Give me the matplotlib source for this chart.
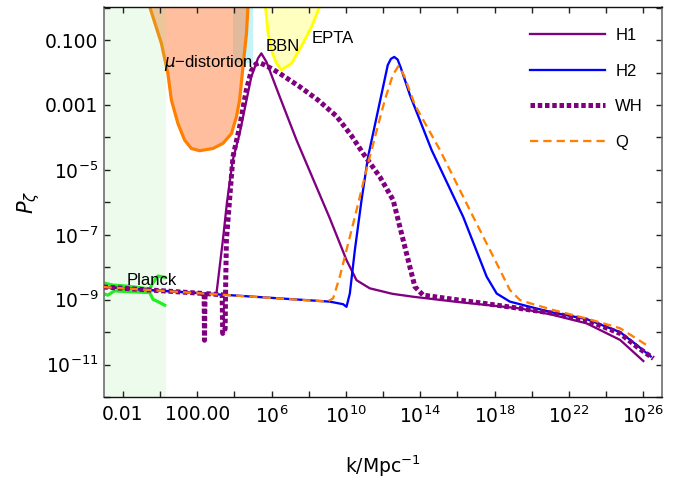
import matplotlib
matplotlib.use("Agg")
import numpy as np
import matplotlib.pyplot as plt
from matplotlib.ticker import FixedLocator, FixedFormatter, NullLocator

plt.rcParams['font.family'] = ['Liberation Sans', 'DejaVu Sans']
plt.rcParams['mathtext.fontset'] = 'custom'
plt.rcParams['mathtext.rm'] = 'DejaVu Sans'
plt.rcParams['mathtext.it'] = 'DejaVu Sans:italic'
plt.rcParams['mathtext.bf'] = 'DejaVu Sans:bold'

# ---- curves: log10(k / Mpc^-1) and log10(P_zeta) ----
h1_logk = [-3.05, 3.03, 3.38, 3.60, 3.91, 4.28, 4.91, 5.27, 5.45, 5.72, 6.44, 7.34,
           9.13, 10.03, 10.57, 11.28, 12.50, 13.62, 16.00, 19.36, 21.00, 22.95, 24.75, 26.00]
h1_logp = [-8.61, -8.83, -7.16, -6.00, -4.70, -3.88, -2.13, -1.56, -1.41, -1.67, -2.75, -4.08,
           -6.49, -7.78, -8.40, -8.65, -8.82, -8.91, -9.07, -9.27, -9.45, -9.73, -10.24, -10.89]

h2_logk = [-3.05, 9.13, 9.85, 10.03, 10.21, 10.48, 10.84, 11.19, 11.73, 12.25, 12.42, 12.60,
           12.78, 12.95, 13.44, 14.61, 16.31, 17.57, 18.11, 18.82, 19.90, 21.16, 22.95, 24.75,
           25.65, 26.40]
h2_logp = [-8.61, -9.06, -9.14, -9.22, -8.81, -7.47, -5.93, -4.60, -3.16, -1.77, -1.58, -1.52,
           -1.60, -1.85, -2.69, -4.39, -6.45, -8.29, -8.81, -9.06, -9.22, -9.40, -9.60, -10.00,
           -10.40, -10.75]

wh_logk = [-3.05, 2.37, 2.39, 2.42, 3.34, 3.37, 3.50, 3.53, 3.57, 3.92, 4.28, 4.64, 4.91,
           5.15, 5.35, 5.60, 6.00, 6.44, 7.52, 8.50, 9.50, 10.30, 10.92, 11.82, 12.54, 12.99,
           13.44, 13.71, 14.15, 15.42, 17.50, 19.36, 21.16, 22.95, 24.75, 25.65, 26.54]
wh_logp = [-8.61, -8.81, -10.25, -8.81, -8.85, -10.04, -9.90, -8.50, -7.16, -4.60, -3.67, -2.54,
           -1.95, -1.74, -1.70, -1.76, -1.88, -2.03, -2.44, -2.85, -3.35, -3.95, -4.49, -5.21,
           -5.93, -6.96, -7.99, -8.60, -8.86, -8.96, -9.12, -9.27, -9.42, -9.63, -10.04, -10.45,
           -10.81]

q_logk = [-3.05, 9.00, 9.31, 9.67, 10.03, 10.48, 10.92, 11.28, 12.09, 12.52, 12.82, 13.12,
          13.71, 15.06, 16.85, 18.11, 18.82, 19.36, 19.90, 21.16, 22.95, 24.75, 26.18]
q_logp = [-8.61, -9.06, -8.96, -8.29, -7.47, -6.45, -5.42, -4.60, -2.85, -2.08, -1.80, -2.08,
          -3.00, -4.39, -6.45, -7.88, -8.70, -9.01, -9.11, -9.32, -9.58, -9.88, -10.40]

# ---- observational bounds ----
planck_up_logk = [-3.08, -2.54, -1.82, -1.10, -0.56, -0.38, -0.12, 0.25]
planck_up_logp = [-8.48, -8.55, -8.58, -8.63, -8.67, -8.48, -8.27, -8.31]
planck_lo_logk = [-3.08, -2.81, -2.45, -1.46, -0.56, -0.38, -0.12, 0.25]
planck_lo_logp = [-8.81, -8.86, -8.73, -8.76, -8.78, -8.99, -9.06, -9.17]

mu_logk = [-0.68, -0.56, 0.07, 0.42, 0.61, 0.96, 1.32, 1.68, 2.13, 2.85, 3.39, 3.84,
           4.11, 4.28, 4.46, 4.65, 4.73, 4.75]
mu_logp = [0.30, 0.03, -1.10, -2.03, -2.85, -3.57, -4.08, -4.34, -4.41, -4.34, -4.18, -3.88,
           -3.36, -2.85, -1.82, -0.79, 0.03, 0.30]

bbn_logk = [5.62, 5.67, 5.81, 5.99, 6.26, 6.53, 7.07, 7.69, 8.15, 8.59, 8.73]
bbn_logp = [0.30, 0.03, -0.79, -1.31, -1.72, -1.92, -1.72, -1.10, -0.59, 0.03, 0.30]

cyan_logk = [3.92, 5.00]
cyan_logp = [-1.71, 0.30]

planck_band_logk = [-3.3, 0.31]

xtick_exp = list(range(-2, 27, 2))
xtick_labels = {-2: '0.01', 2: '100.00'}
ytick_exp = list(range(-12, 1))
ytick_labels = {-1: '0.100', -3: '0.001'}


def pw(a):
    return 10.0 ** np.asarray(a, dtype=float)


fig = plt.figure(figsize=(6.89, 4.83), dpi=100)
ax = fig.add_axes([0.1514, 0.178, 0.809, 0.808])
ax.set_xscale('log')
ax.set_yscale('log')

# shaded regions
ax.fill_between(pw(cyan_logk), pw(cyan_logp[0]), pw(cyan_logp[1]),
                color='#c4f3f8', lw=0, zorder=1)
ax.fill(pw(mu_logk), pw(mu_logp), facecolor=(1.0, 0.5, 0.25), alpha=0.5, lw=0, zorder=1.1)
ax.plot(pw(mu_logk), pw(mu_logp), color='#ff8000', lw=2.3, zorder=1.2,
        solid_joinstyle='round')
ax.fill(pw(bbn_logk), pw(bbn_logp), facecolor='#ffffc0', lw=0, zorder=1.1)
ax.plot(pw(bbn_logk), pw(bbn_logp), color='#ffff00', lw=2.0, zorder=1.2)
ax.axvspan(pw(planck_band_logk[0]), pw(planck_band_logk[1]),
           color=(0.55, 0.92, 0.55), alpha=0.16, lw=0, zorder=1.5)

ax.plot(pw(planck_up_logk), pw(planck_up_logp), color='#22ee22', lw=2.3, zorder=2.5)
ax.plot(pw(planck_lo_logk), pw(planck_lo_logp), color='#22ee22', lw=2.3, zorder=2.5)

# power spectra
l_h1, = ax.plot(pw(h1_logk), pw(h1_logp), color='#800080', lw=1.65, zorder=3, label='H1')
l_h2, = ax.plot(pw(h2_logk), pw(h2_logp), color='#0000ff', lw=1.65, zorder=3.1, label='H2')
l_wh, = ax.plot(pw(wh_logk), pw(wh_logp), color='#800080', lw=3.6, zorder=3.2, label='WH',
                dash_capstyle='butt')
l_wh.set_dashes([0.9, 0.55])
l_q, = ax.plot(pw(q_logk), pw(q_logp), color='#ff8000', lw=1.65, zorder=3.3, label='Q',
               dash_capstyle='butt')
l_q.set_dashes([3.6, 2.2])

# annotations
ax.text(pw(2.61), pw(-1.71), r'$\mu$' + '\u2212distortion', fontsize=12,
        ha='center', va='center', zorder=5)
ax.text(pw(5.67), pw(-1.21), 'BBN', fontsize=12, ha='left', va='center', zorder=5)
ax.text(pw(8.15), pw(-0.95), 'EPTA', fontsize=12, ha='left', va='center', zorder=5)
ax.text(pw(-1.82), pw(-8.40), 'Planck', fontsize=12, ha='left', va='center', zorder=5)

ax.set_xlim(1e-3, 10 ** 26.99)
ax.set_ylim(1e-12, 10 ** 0.026)

ax.xaxis.set_major_locator(FixedLocator(pw(xtick_exp)))
ax.xaxis.set_minor_locator(NullLocator())
xl = []
for e in xtick_exp:
    if e in xtick_labels:
        xl.append(xtick_labels[e])
    elif (e + 2) % 4 == 0:
        xl.append(r'$\mathregular{10^{%d}}$' % e)
    else:
        xl.append('')
ax.xaxis.set_major_formatter(FixedFormatter(xl))

ax.yaxis.set_major_locator(FixedLocator(pw(ytick_exp)))
ax.yaxis.set_minor_locator(NullLocator())
yl = []
for e in ytick_exp:
    if e in ytick_labels:
        yl.append(ytick_labels[e])
    elif e % 2 != 0:
        yl.append(r'$\mathregular{10^{%d}}$' % e)
    else:
        yl.append('')
ax.yaxis.set_major_formatter(FixedFormatter(yl))

ax.tick_params(which='both', direction='in', top=True, right=True, length=4,
               width=1.0, labelsize=13.5, colors='#222222', labelcolor='black',
               labelfontfamily='DejaVu Sans')
ax.tick_params(axis='x', pad=6)
ax.tick_params(axis='y', pad=4.5)

for side in ('left', 'right'):
    ax.spines[side].set_color('#6e6e6e')
    ax.spines[side].set_linewidth(1.2)
for side in ('top', 'bottom'):
    ax.spines[side].set_color('#111111')
    ax.spines[side].set_linewidth(1.0)

ax.set_xlabel(r'k/Mpc$^{\mathregular{-1}}$', fontsize=13.5, labelpad=19,
              family='DejaVu Sans')
ax.set_ylabel(r'$P_\zeta$', fontsize=15, labelpad=2)

ax.legend(handles=[l_h1, l_h2, l_wh, l_q], loc='upper left', bbox_to_anchor=(0.752, 0.962),
          borderaxespad=0, frameon=False, fontsize=12, handlelength=4.5,
          handletextpad=0.6, labelspacing=1.23)

fig.savefig('out.png', dpi=100)
